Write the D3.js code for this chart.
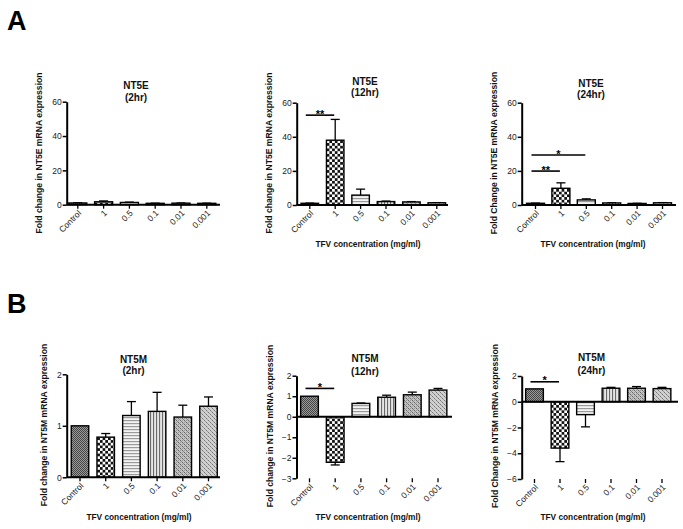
<!DOCTYPE html>
<html>
<head>
<meta charset="utf-8">
<script src="https://cdn.jsdelivr.net/npm/d3@7"></script>
<style>
  html, body { margin: 0; padding: 0; background: #fff; }
  svg { display: block; font-family: "Liberation Sans", Arial, sans-serif; }
</style>
</head>
<body>
<svg id="chart" width="683" height="529"></svg>
<script>
// ---------------- DATA ----------------
const categories = ["Control", "1", "0.5", "0.1", "0.01", "0.001"];

const nt5e2hMean  = [1.0, 1.7, 1.3, 0.8, 0.9, 0.8];
const nt5e2hErr   = [0.1, 0.5, 0.2, 0.1, 0.1, 0.1];
const nt5e12hMean = [1.0, 38.0, 5.8, 2.0, 1.8, 1.3];
const nt5e12hErr  = [0.1, 12.2, 3.5, 0.3, 0.2, 0.1];
const nt5e24hMean = [1.0, 9.8, 3.0, 1.2, 0.9, 1.3];
const nt5e24hErr  = [0.1, 3.2, 0.6, 0.1, 0.1, 0.1];

const nt5m2hMean  = [1.0, 0.78, 1.20, 1.28, 1.17, 1.38];
const nt5m2hErr   = [0.0, 0.07, 0.27, 0.37, 0.23, 0.18];
const nt5m12hMean = [1.0, -2.22, 0.65, 0.95, 1.07, 1.30];
const nt5m12hErr  = [0.0, 0.13, 0.02, 0.10, 0.13, 0.08];
const nt5m24hMean = [1.0, -3.60, -1.00, 1.05, 1.05, 1.02];
const nt5m24hErr  = [0.0, 1.05, 0.95, 0.07, 0.13, 0.10];

const nt5eTicks    = [0, 20, 40, 60];
const nt5m2hTicks  = [0, 1, 2];
const nt5m12hTicks = [-3, -2, -1, 0, 1, 2];
const nt5m24hTicks = [-6, -4, -2, 0, 2];

const nt5e12hSig = [{ from: "Control", to: "1", value: 52.7, label: "**" }];
const nt5e24hSig = [{ from: "Control", to: "1", value: 19.9, label: "**" },
                    { from: "Control", to: "0.5", value: 29.3, label: "*" }];
const nt5m12hSig = [{ from: "Control", to: "1", value: 1.38, label: "*" }];
const nt5m24hSig = [{ from: "Control", to: "1", value: 1.55, label: "*" }];

const titles = ["NT5E", "NT5E", "NT5E", "NT5M", "NT5M", "NT5M"];
const subtitles = ["(2hr)", "(12hr)", "(24hr)", "(2hr)", "(12hr)", "(24hr)"];
const yLabels = ["Fold change in NT5E mRNA expression",
                 "Fold change in NT5E mRNA expression",
                 "Fold Change in NT5E mRNA expression",
                 "Fold change in NT5M mRNA expression",
                 "Fold change in NT5M mRNA expression",
                 "Fold Change in NT5M mRNA expression"];
const xLabel = "TFV concentration (mg/ml)";
const panelLetters = ["A", "B"];

// ---------------- LAYOUT ----------------
const layout = [
  { means: nt5e2hMean,  errs: nt5e2hErr,  ticks: nt5eTicks,    sig: [],
    x0: 66.7, yTop: 101.7, yBot: 204.7, first: 77.8, step: 25.8, bw: 18, axisEnd: 220,
    tcx: 136, t1: 89, t2: 100.5, ylx: 41.5, yly: 153, xl: null, labelsAtBottom: false },
  { means: nt5e12hMean, errs: nt5e12hErr, ticks: nt5eTicks,    sig: nt5e12hSig,
    x0: 296.7, yTop: 102.7, yBot: 205, first: 309.8, step: 25.4, bw: 17.5, axisEnd: 448,
    tcx: 365, t1: 84.5, t2: 96, ylx: 271.5, yly: 153, xl: [368, 246.5], labelsAtBottom: false },
  { means: nt5e24hMean, errs: nt5e24hErr, ticks: nt5eTicks,    sig: nt5e24hSig,
    x0: 521.7, yTop: 102.7, yBot: 205, first: 535.5, step: 25.4, bw: 18, axisEnd: 676,
    tcx: 591, t1: 86.5, t2: 98, ylx: 497, yly: 153, xl: [593, 247], labelsAtBottom: false },
  { means: nt5m2hMean,  errs: nt5m2hErr,  ticks: nt5m2hTicks,  sig: [],
    x0: 66.7, yTop: 374.3, yBot: 477.3, first: 80, step: 25.7, bw: 17.5, axisEnd: 220,
    tcx: 133.5, t1: 362.5, t2: 374, ylx: 46.5, yly: 425, xl: [139, 520], labelsAtBottom: false },
  { means: nt5m12hMean, errs: nt5m12hErr, ticks: nt5m12hTicks, sig: nt5m12hSig,
    x0: 296.5, yTop: 375.7, yBot: 478.3, first: 309.5, step: 25.7, bw: 17.7, axisEnd: 452,
    tcx: 365, t1: 362, t2: 374.5, ylx: 273, yly: 426, xl: [368, 520], labelsAtBottom: true },
  { means: nt5m24hMean, errs: nt5m24hErr, ticks: nt5m24hTicks, sig: nt5m24hSig,
    x0: 521.7, yTop: 376, yBot: 479, first: 534.5, step: 25.5, bw: 17.7, axisEnd: 678,
    tcx: 591.5, t1: 361, t2: 374, ylx: 498, yly: 426, xl: [593, 520], labelsAtBottom: true }
];

const svg = d3.select("#chart");
const defs = svg.append("defs");

// ---------------- PATTERNS ----------------
function pat(id, w, h, bg, draw) {
  const p = defs.append("pattern").attr("id", id).attr("patternUnits", "userSpaceOnUse")
    .attr("width", w).attr("height", h);
  p.append("rect").attr("width", w).attr("height", h).attr("fill", bg);
  draw(p);
}
pat("p0", 2, 2, "#9a9a9a", p => {
  p.append("rect").attr("width", 1).attr("height", 1).attr("fill", "#444");
  p.append("rect").attr("x", 1).attr("y", 1).attr("width", 1).attr("height", 1).attr("fill", "#444");
});
pat("p1", 5.4, 5.4, "#fff", p => {
  p.append("rect").attr("width", 2.7).attr("height", 2.7).attr("fill", "#111");
  p.append("rect").attr("x", 2.7).attr("y", 2.7).attr("width", 2.7).attr("height", 2.7).attr("fill", "#111");
});
pat("p2", 4, 3, "#f4f4f4", p => {
  p.append("rect").attr("y", 0).attr("width", 4).attr("height", 1.2).attr("fill", "#9a9a9a");
});
pat("p3", 3, 4, "#e6e6e6", p => {
  p.append("rect").attr("x", 0).attr("width", 1.1).attr("height", 4).attr("fill", "#6a6a6a");
});
pat("p4", 4, 4, "#c4c4c4", p => {
  p.append("rect").attr("width", 1).attr("height", 1).attr("fill", "#666");
  p.append("rect").attr("x", 2).attr("y", 2).attr("width", 1).attr("height", 1).attr("fill", "#666");
  p.append("rect").attr("x", 1).attr("y", 1).attr("width", 1).attr("height", 1).attr("fill", "#888");
  p.append("rect").attr("x", 3).attr("y", 3).attr("width", 1).attr("height", 1).attr("fill", "#888");
  p.append("rect").attr("x", 2).attr("y", 0).attr("width", 1).attr("height", 1).attr("fill", "#999");
  p.append("rect").attr("x", 0).attr("y", 2).attr("width", 1).attr("height", 1).attr("fill", "#999");
});
pat("p5", 4, 4, "#d0d0d0", p => {
  p.append("rect").attr("width", 1).attr("height", 1).attr("fill", "#777");
  p.append("rect").attr("x", 2).attr("y", 2).attr("width", 1).attr("height", 1).attr("fill", "#777");
  p.append("rect").attr("x", 1).attr("y", 1).attr("width", 1).attr("height", 1).attr("fill", "#999");
  p.append("rect").attr("x", 3).attr("y", 3).attr("width", 1).attr("height", 1).attr("fill", "#999");
});
const fills = categories.map((c, i) => `url(#p${i})`);

// ---------------- PANELS ----------------
layout.forEach((L, pi) => {
  const g = svg.append("g");
  const dom = d3.extent(L.ticks);
  const y = d3.scaleLinear().domain(dom).range([L.yBot, L.yTop]);
  const pInner = 1 - L.bw / L.step;
  const r0 = L.first - L.step / 2;
  const x = d3.scaleBand().domain(categories)
    .range([r0, r0 + L.step * categories.length])
    .paddingInner(pInner).paddingOuter(pInner / 2);
  const bw = x.bandwidth();
  const cx = c => x(c) + bw / 2;

  const rows = categories.map((c, i) => ({ c, v: L.means[i], e: L.errs[i], i }));

  rows.filter(d => d.e > 0).forEach(d => {
    const sgn = d.v >= 0 ? 1 : -1;
    const ya = y(d.v), yb = y(d.v + sgn * d.e);
    g.append("line").attr("x1", cx(d.c)).attr("x2", cx(d.c)).attr("y1", ya).attr("y2", yb)
      .attr("stroke", "#000").attr("stroke-width", 1.3);
    g.append("line").attr("x1", cx(d.c) - 4.5).attr("x2", cx(d.c) + 4.5).attr("y1", yb).attr("y2", yb)
      .attr("stroke", "#000").attr("stroke-width", 1.3);
  });

  g.selectAll("rect.bar").data(rows).join("rect").attr("class", "bar")
    .attr("x", d => x(d.c)).attr("width", bw)
    .attr("y", d => Math.min(y(d.v), y(0)))
    .attr("height", d => Math.abs(y(d.v) - y(0)))
    .attr("fill", d => fills[d.i]).attr("stroke", "#000").attr("stroke-width", 1.4);

  const ya = g.append("g").attr("transform", `translate(${L.x0},0)`)
    .call(d3.axisLeft(y).tickValues(L.ticks).tickFormat(d3.format("d")).tickSize(4).tickSizeOuter(0));
  ya.select(".domain").attr("stroke-width", 2);
  ya.selectAll(".tick line").attr("stroke-width", 1.5);
  ya.selectAll(".tick text").attr("font-size", 8.5).attr("font-family", "Liberation Sans, Arial, sans-serif")
    .attr("fill", "#222").attr("x", -5);

  g.append("line").attr("x1", L.x0).attr("x2", L.axisEnd).attr("y1", y(0)).attr("y2", y(0))
    .attr("stroke", "#000").attr("stroke-width", 2);

  const yl = L.labelsAtBottom ? y(dom[0]) : y(0);
  const xa = g.append("g").attr("transform", `translate(0,${yl})`)
    .call(d3.axisBottom(x).tickSize(4).tickSizeOuter(0));
  xa.select(".domain").remove();
  xa.selectAll(".tick line").attr("stroke-width", 1.3);
  xa.selectAll(".tick text").attr("font-size", 8.5).attr("font-family", "Liberation Sans, Arial, sans-serif")
    .attr("fill", "#222").attr("text-anchor", "end")
    .attr("dy", null).attr("y", 0)
    .attr("transform", "translate(4,9) rotate(-45)");

  L.sig.forEach(s => {
    const sy = y(s.value);
    const xa1 = cx(s.from) - 4, xa2 = cx(s.to) - 1;
    g.append("line").attr("x1", xa1).attr("x2", xa2).attr("y1", sy).attr("y2", sy)
      .attr("stroke", "#000").attr("stroke-width", 1.6);
    g.append("text").attr("x", (xa1 + xa2) / 2).attr("y", sy + 2.5).attr("text-anchor", "middle")
      .attr("font-size", 11).attr("font-weight", "bold").text(s.label);
  });

  g.append("text").attr("x", L.tcx).attr("y", L.t1).attr("text-anchor", "middle")
    .attr("font-size", 10).attr("font-weight", "bold").attr("fill", "#111").text(titles[pi]);
  g.append("text").attr("x", L.tcx).attr("y", L.t2).attr("text-anchor", "middle")
    .attr("font-size", 10).attr("font-weight", "bold").attr("fill", "#111").text(subtitles[pi]);

  g.append("text").attr("transform", `translate(${L.ylx},${L.yly}) rotate(-90)`)
    .attr("text-anchor", "middle").attr("font-size", 8.6).attr("font-weight", "bold").attr("fill", "#111")
    .text(yLabels[pi]);

  if (L.xl) {
    g.append("text").attr("x", L.xl[0]).attr("y", L.xl[1]).attr("text-anchor", "middle")
      .attr("font-size", 8.3).attr("font-weight", "bold").attr("fill", "#111").text(xLabel);
  }
});

svg.append("text").attr("x", 7).attr("y", 30).attr("font-size", 27).attr("font-weight", "bold").text(panelLetters[0]);
svg.append("text").attr("x", 7).attr("y", 313).attr("font-size", 27).attr("font-weight", "bold").text(panelLetters[1]);
</script>
</body>
</html>
